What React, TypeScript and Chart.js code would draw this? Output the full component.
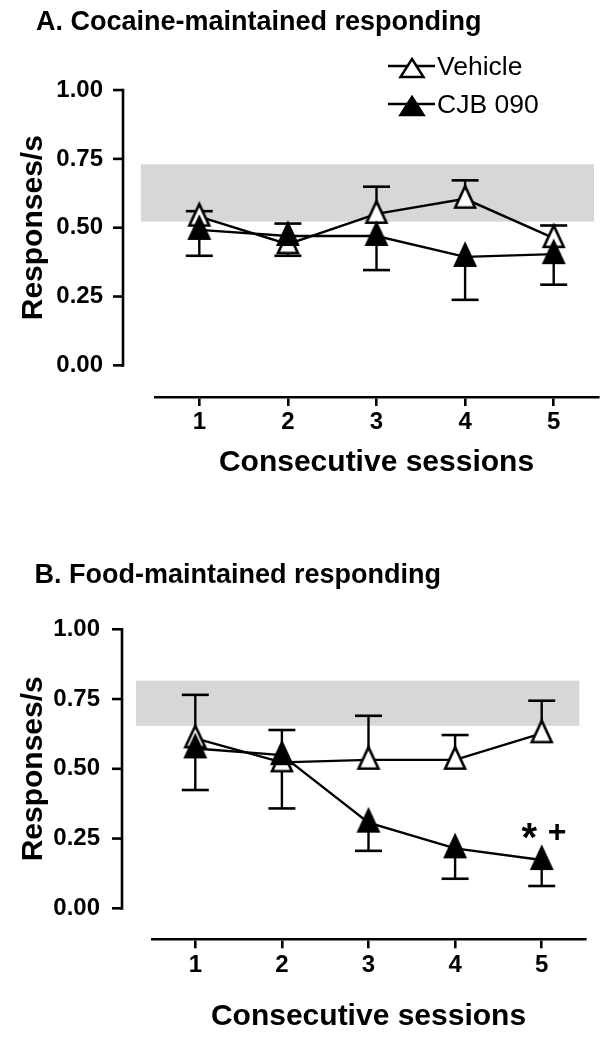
import React, { useEffect, useRef } from 'react';
import { Chart, registerables } from 'chart.js';

Chart.register(...registerables);

// ---------- data ----------
const sessions = [1, 2, 3, 4, 5];
const yTickValues = [0, 0.25, 0.5, 0.75, 1];
const xTitle = 'Consecutive sessions';
const yTitle = 'Responses/s';
const vehicleName = 'Vehicle';
const cjbName = 'CJB 090';

// Panel A: cocaine-maintained responding
const cocaineTitle = 'A. Cocaine-maintained responding';
const cocaineVehicle = [0.54, 0.44, 0.55, 0.605, 0.462];
const cocaineVehicleErrTo = [0.56, 0.515, 0.649, 0.672, 0.508];
const cocaineCJB = [0.492, 0.47, 0.47, 0.394, 0.404];
const cocaineCJBErrTo = [0.398, 0.398, 0.346, 0.238, 0.293];
const cocaineBandX = [0.34, 5.455];
const cocaineBandY = [0.522, 0.73];

// Panel B: food-maintained responding
const foodTitle = 'B. Food-maintained responding';
const foodVehicle = [0.609, 0.523, 0.532, 0.532, 0.627];
const foodVehicleErrTo = [0.765, 0.639, 0.69, 0.621, 0.744];
const foodCJB = [0.573, 0.549, 0.307, 0.215, 0.173];
const foodCJBErrTo = [0.424, 0.358, 0.206, 0.106, 0.08];
const foodBandX = [0.314, 5.435];
const foodBandY = [0.654, 0.816];
const foodMarks = ['*', '+'];
const foodMarkSession = 5;
const foodMarkValue = 0.277;

// ---------- styling ----------
const FONT = "'Liberation Sans', Arial, Helvetica, sans-serif";

type Panel = {
  title: string;
  vehicle: number[];
  vehicleErr: number[];
  cjb: number[];
  cjbErr: number[];
  bandX: number[];
  bandY: number[];
  legend: boolean;
  marks?: string[];
  markSession?: number;
  markValue?: number;
  top: number;
  height: number;
  yScaleWidth: number;
  padRight: number;
  padTop: number;
  xScaleHeight: number;
  yMin: number;
  yMax: number;
  axisGap: number;
  titleX: number;
  titleY: number;
  xTitlePadBottom: number;
  xTickPad: number;
  yTickPad: number;
};

const panels: Panel[] = [
  {
    title: cocaineTitle,
    vehicle: cocaineVehicle,
    vehicleErr: cocaineVehicleErrTo,
    cjb: cocaineCJB,
    cjbErr: cocaineCJBErrTo,
    bandX: cocaineBandX,
    bandY: cocaineBandY,
    legend: true,
    top: 0,
    height: 500,
    yScaleWidth: 155,
    padRight: 15,
    padTop: 47,
    xScaleHeight: 103,
    yMin: -0.115,
    yMax: 1.115,
    axisGap: 32,
    titleX: 36,
    titleY: 30,
    xTitlePadBottom: 19,
    xTickPad: 2,
    yTickPad: 44,
  },
  {
    title: foodTitle,
    vehicle: foodVehicle,
    vehicleErr: foodVehicleErrTo,
    cjb: foodCJB,
    cjbErr: foodCJBErrTo,
    bandX: foodBandX,
    bandY: foodBandY,
    legend: false,
    marks: foodMarks,
    markSession: foodMarkSession,
    markValue: foodMarkValue,
    top: 520,
    height: 522,
    yScaleWidth: 152,
    padRight: 28,
    padTop: 78.3,
    xScaleHeight: 102.7,
    yMin: -0.111,
    yMax: 1.111,
    axisGap: 30,
    titleX: 34.5,
    titleY: 63.3,
    xTitlePadBottom: 7.3,
    xTickPad: 2.3,
    yTickPad: 44,
  },
];

function makeTriangle(filled: boolean, w: number, h: number, anchor: number, lw: number) {
  const pad = 2;
  const W = Math.ceil(w + pad * 2);
  const top = pad;
  const H = Math.ceil(2 * (top + anchor * h));
  const c = document.createElement('canvas');
  c.width = W;
  c.height = H;
  const ctx = c.getContext('2d')!;
  const cx = W / 2;
  const inset = lw / 2;
  ctx.beginPath();
  ctx.moveTo(cx, top + inset * 1.8);
  ctx.lineTo(cx + w / 2 - inset * 1.6, top + h - inset);
  ctx.lineTo(cx - w / 2 + inset * 1.6, top + h - inset);
  ctx.closePath();
  ctx.lineJoin = 'miter';
  ctx.fillStyle = filled ? '#000' : '#fff';
  ctx.fill();
  ctx.lineWidth = lw;
  ctx.strokeStyle = '#000';
  ctx.stroke();
  return c;
}

function drawLegendTriangle(ctx: CanvasRenderingContext2D, cx: number, apexY: number, w: number, h: number, filled: boolean) {
  ctx.beginPath();
  ctx.moveTo(cx, apexY);
  ctx.lineTo(cx + w / 2, apexY + h);
  ctx.lineTo(cx - w / 2, apexY + h);
  ctx.closePath();
  ctx.fillStyle = filled ? '#000' : '#fff';
  ctx.fill();
  ctx.lineWidth = 2.5;
  ctx.strokeStyle = '#000';
  ctx.lineJoin = 'miter';
  ctx.stroke();
}

function PanelChart({ panel }: { panel: Panel }) {
  const ref = useRef<HTMLCanvasElement>(null);
  useEffect(() => {
    const canvas = ref.current;
    if (!canvas) return;
    const openTri = makeTriangle(false, 24, 25, 0.6, 2.6);
    const fillTri = makeTriangle(true, 24, 25, 0.6, 2.6);

    const errorSets = [
      { values: panel.cjb, errTo: panel.cjbErr },
      { values: panel.vehicle, errTo: panel.vehicleErr },
    ];

    const decorPlugin = {
      id: 'decor',
      beforeDatasetsDraw(chart: any) {
        const { ctx } = chart;
        const xs = chart.scales.x;
        const ys = chart.scales.y;
        // reference band
        ctx.save();
        ctx.fillStyle = '#d7d7d7';
        const bx0 = xs.getPixelForValue(panel.bandX[0]);
        const bx1 = xs.getPixelForValue(panel.bandX[1]);
        const by0 = ys.getPixelForValue(panel.bandY[1]);
        const by1 = ys.getPixelForValue(panel.bandY[0]);
        ctx.fillRect(bx0, by0, bx1 - bx0, by1 - by0);
        // error bars
        ctx.strokeStyle = '#000';
        errorSets.forEach((s) => {
          sessions.forEach((sx, i) => {
            const x = xs.getPixelForValue(sx);
            const y1 = ys.getPixelForValue(s.values[i]);
            const y2 = ys.getPixelForValue(s.errTo[i]);
            ctx.lineWidth = 2.4;
            ctx.beginPath();
            ctx.moveTo(x, y1);
            ctx.lineTo(x, y2);
            ctx.stroke();
            ctx.lineWidth = 2.6;
            ctx.beginPath();
            ctx.moveTo(x - 13.5, y2);
            ctx.lineTo(x + 13.5, y2);
            ctx.stroke();
          });
        });
        ctx.restore();
      },
      afterDraw(chart: any) {
        const { ctx, chartArea } = chart;
        const xs = chart.scales.x;
        const ys = chart.scales.y;
        ctx.save();
        // offset y axis line and tick marks
        const ax = chartArea.left - panel.axisGap;
        const yTop = ys.getPixelForValue(yTickValues[yTickValues.length - 1]);
        const yBot = ys.getPixelForValue(yTickValues[0]);
        ctx.strokeStyle = '#000';
        ctx.lineWidth = 2.6;
        ctx.beginPath();
        ctx.moveTo(ax, yTop - 1.3);
        ctx.lineTo(ax, yBot + 1.3);
        ctx.stroke();
        yTickValues.forEach((v) => {
          const y = ys.getPixelForValue(v);
          ctx.beginPath();
          ctx.moveTo(ax - 10, y);
          ctx.lineTo(ax, y);
          ctx.stroke();
        });
        // panel title
        ctx.fillStyle = '#000';
        ctx.font = `bold 27px ${FONT}`;
        ctx.textAlign = 'left';
        ctx.textBaseline = 'alphabetic';
        ctx.fillText(panel.title, panel.titleX, panel.titleY);
        // legend
        if (panel.legend) {
          const rows = [
            { name: vehicleName, filled: false, y: 66 },
            { name: cjbName, filled: true, y: 104 },
          ];
          rows.forEach((r) => {
            ctx.lineWidth = 2.4;
            ctx.strokeStyle = '#000';
            ctx.beginPath();
            ctx.moveTo(388, r.y);
            ctx.lineTo(435, r.y);
            ctx.stroke();
            drawLegendTriangle(ctx, 412, r.y - 7, 23, 18, r.filled);
            ctx.fillStyle = '#000';
            ctx.font = `26.5px ${FONT}`;
            ctx.textBaseline = 'middle';
            ctx.textAlign = 'left';
            ctx.fillText(r.name, 437, r.y + 2);
          });
        }
        // significance marks
        if (panel.marks && panel.markSession !== undefined && panel.markValue !== undefined) {
          const px = xs.getPixelForValue(panel.markSession);
          const py = ys.getPixelForValue(panel.markValue);
          const offsets = [-12.5, 15.5];
          const sizes = [40, 32];
          ctx.textAlign = 'center';
          ctx.textBaseline = 'alphabetic';
          ctx.fillStyle = '#000';
          panel.marks.forEach((m, i) => {
            ctx.font = `bold ${sizes[i]}px ${FONT}`;
            const mt = ctx.measureText(m);
            const base = py + (mt.actualBoundingBoxAscent - mt.actualBoundingBoxDescent) / 2;
            ctx.fillText(m, px + offsets[i], base);
          });
        }
        ctx.restore();
      },
    };

    const chart = new Chart(canvas, {
      type: 'line',
      data: {
        datasets: [
          {
            label: cjbName,
            data: sessions.map((x, i) => ({ x, y: panel.cjb[i] })),
            borderColor: '#000',
            backgroundColor: '#000',
            borderWidth: 2.4,
            pointStyle: fillTri as any,
            pointRadius: 12,
            tension: 0,
            fill: false,
            clip: false as any,
          },
          {
            label: vehicleName,
            data: sessions.map((x, i) => ({ x, y: panel.vehicle[i] })),
            borderColor: '#000',
            backgroundColor: '#fff',
            borderWidth: 2.4,
            pointStyle: openTri as any,
            pointRadius: 12,
            tension: 0,
            fill: false,
            clip: false as any,
          },
        ],
      },
      options: {
        responsive: false,
        animation: false,
        events: [],
        layout: { padding: { left: 0, right: panel.padRight, top: panel.padTop, bottom: 0 } },
        plugins: {
          legend: { display: false },
          title: { display: false },
          tooltip: { enabled: false },
        },
        scales: {
          x: {
            type: 'linear',
            min: 0.5,
            max: 5.5,
            afterFit: (s: any) => {
              s.height = panel.xScaleHeight;
            },
            afterBuildTicks: (s: any) => {
              s.ticks = sessions.map((v) => ({ value: v }));
            },
            grid: {
              display: true,
              drawOnChartArea: false,
              drawTicks: true,
              tickLength: 9,
              color: '#000',
              lineWidth: 2.6,
            },
            border: { display: true, color: '#000', width: 2.6 },
            ticks: {
              padding: panel.xTickPad,
              color: '#000',
              font: { family: FONT, size: 24, weight: 'bold' },
              callback: (v: any) => String(v),
            },
            title: {
              display: true,
              text: xTitle,
              color: '#000',
              font: { family: FONT, size: 30, weight: 'bold' },
              padding: { top: 0, bottom: panel.xTitlePadBottom },
            },
          },
          y: {
            type: 'linear',
            min: panel.yMin,
            max: panel.yMax,
            afterFit: (s: any) => {
              s.width = panel.yScaleWidth;
            },
            afterBuildTicks: (s: any) => {
              s.ticks = yTickValues.map((v) => ({ value: v }));
            },
            grid: { display: false },
            border: { display: false },
            ticks: {
              padding: panel.yTickPad,
              color: '#000',
              font: { family: FONT, size: 24, weight: 'bold' },
              callback: (v: any) => Number(v).toFixed(2),
            },
            title: {
              display: true,
              text: yTitle,
              color: '#000',
              font: { family: FONT, size: 30, weight: 'bold' },
              padding: { top: 16, bottom: 0 },
            },
          },
        },
      } as any,
      plugins: [decorPlugin],
    });
    return () => chart.destroy();
  }, [panel]);

  return (
    <div style={{ position: 'absolute', left: 0, top: panel.top, width: 613, height: panel.height }}>
      <canvas ref={ref} width={613} height={panel.height} style={{ display: 'block' }} />
    </div>
  );
}

export default function App() {
  return (
    <div style={{ position: 'absolute', left: 0, top: 0, width: 613, height: 1042, background: '#fff', overflow: 'hidden' }}>
      {panels.map((p, i) => (
        <PanelChart key={i} panel={p} />
      ))}
    </div>
  );
}
